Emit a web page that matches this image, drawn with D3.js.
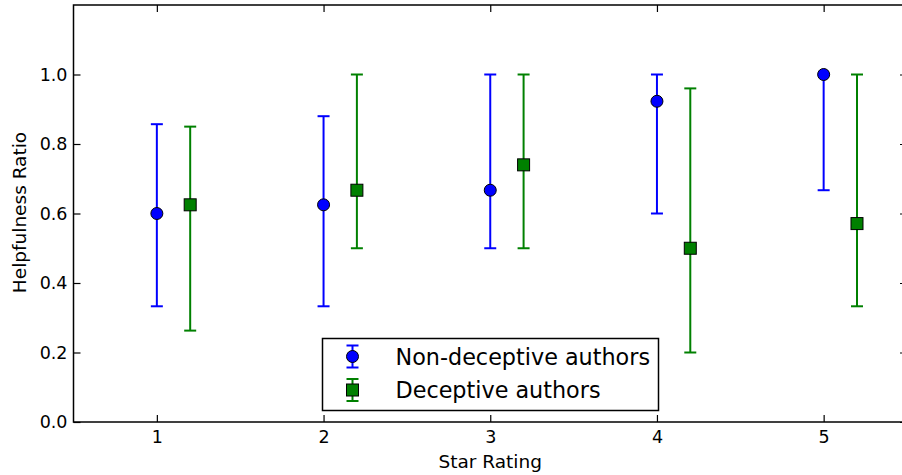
<!DOCTYPE html>
<html>
<head>
<meta charset="utf-8">
<script src="https://cdn.jsdelivr.net/npm/d3@7"></script>
<style>
  body { margin: 0; background: #fff; }
  svg { display: block; font-family: "DejaVu Sans", sans-serif; }
</style>
</head>
<body>
<div id="chart"></div>
<script>
// star ratings and helpfulness ratios
const stars = [1, 2, 3, 4, 5];
const honestMean = [0.600, 0.625, 0.667, 0.923, 1.000];
const honestLow  = [0.333, 0.333, 0.500, 0.600, 0.667];
const honestHigh = [0.857, 0.880, 1.000, 1.000, 1.000];
const deceptMean = [0.625, 0.667, 0.740, 0.500, 0.571];
const deceptLow  = [0.263, 0.500, 0.500, 0.200, 0.333];
const deceptHigh = [0.850, 1.000, 1.000, 0.960, 1.000];
const xTicks = [1, 2, 3, 4, 5];
const yTicks = [0, 0.2, 0.4, 0.6, 0.8, 1.0];
const seriesNames = ['Non-deceptive authors', 'Deceptive authors'];

const W = 902, H = 475;
const m = { left: 73.5, top: 5, right: -5, bottom: 53 };

const svg = d3.select('#chart').append('svg').attr('width', W).attr('height', H);

const x = d3.scaleLinear().domain([0.5, 5.5]).range([m.left, W - m.right]);
const y = d3.scaleLinear().domain([0, 1.2]).range([H - m.bottom, m.top]);

const series = [
  { name: seriesNames[0], color: '#0000ff', shape: 'circle', off: 0,
    pts: stars.map((s, i) => ({ x: s, v: honestMean[i], lo: honestLow[i], hi: honestHigh[i] })) },
  { name: seriesNames[1], color: '#008000', shape: 'square', off: 0.2,
    pts: stars.map((s, i) => ({ x: s, v: deceptMean[i], lo: deceptLow[i], hi: deceptHigh[i] })) }
];

const capW = 6;
const g = svg.append('g');

function drawMarker(sel, shape, color) {
  if (shape === 'circle') {
    sel.append('circle').attr('r', 6).attr('fill', color)
      .attr('stroke', '#000').attr('stroke-width', 1);
  } else {
    sel.append('rect').attr('x', -6).attr('y', -6).attr('width', 12).attr('height', 12)
      .attr('fill', color).attr('stroke', '#000').attr('stroke-width', 1);
  }
}

series.forEach(s => {
  const sg = g.append('g');
  const eb = sg.selectAll('g.eb').data(s.pts).join('g').attr('class', 'eb');
  eb.append('line')
    .attr('x1', d => x(d.x + s.off)).attr('x2', d => x(d.x + s.off))
    .attr('y1', d => y(d.lo)).attr('y2', d => y(d.hi))
    .attr('stroke', s.color).attr('stroke-width', 2);
  ['lo', 'hi'].forEach(k => {
    eb.append('line')
      .attr('x1', d => x(d.x + s.off) - capW).attr('x2', d => x(d.x + s.off) + capW)
      .attr('y1', d => y(d[k])).attr('y2', d => y(d[k]))
      .attr('stroke', s.color).attr('stroke-width', 2);
  });
  const mk = sg.selectAll('g.mk').data(s.pts).join('g').attr('class', 'mk')
    .attr('transform', d => `translate(${x(d.x + s.off)},${y(d.v)})`);
  drawMarker(mk, s.shape, s.color);
});

// axes with inward ticks on all sides
const tickLen = 7;
const axB = svg.append('g').attr('transform', `translate(0,${H - m.bottom})`)
  .call(d3.axisBottom(x).tickValues(xTicks).tickFormat(d3.format('d')).tickSizeInner(-tickLen).tickSizeOuter(0).tickPadding(9));
const axT = svg.append('g').attr('transform', `translate(0,${m.top})`)
  .call(d3.axisTop(x).tickValues(xTicks).tickFormat('').tickSizeInner(-tickLen).tickSizeOuter(0));
const axL = svg.append('g').attr('transform', `translate(${m.left},0)`)
  .call(d3.axisLeft(y).tickValues(yTicks).tickFormat(d3.format('.1f')).tickSizeInner(-tickLen).tickSizeOuter(0).tickPadding(6));
const axR = svg.append('g').attr('transform', `translate(${W - m.right},0)`)
  .call(d3.axisRight(y).tickValues(yTicks).tickFormat('').tickSizeInner(-tickLen).tickSizeOuter(0));

[axB, axT, axL, axR].forEach(a => {
  a.select('.domain').remove();
  a.selectAll('line').attr('stroke', '#000').attr('stroke-width', 1.2);
  a.selectAll('text').attr('font-family', '"DejaVu Sans", sans-serif')
    .attr('font-size', 17.5).attr('fill', '#000');
});

// frame
svg.append('rect')
  .attr('x', m.left).attr('y', m.top)
  .attr('width', x.range()[1] - m.left).attr('height', y.range()[0] - m.top)
  .attr('fill', 'none').attr('stroke', '#000').attr('stroke-width', 1.5);

svg.append('text').attr('x', (m.left + W - m.right) / 2).attr('y', 468)
  .attr('text-anchor', 'middle').attr('font-size', 18.5).text('Star Rating');
svg.append('text').attr('transform', `translate(26,${(m.top + H - m.bottom) / 2 - 1}) rotate(-90)`)
  .attr('text-anchor', 'middle').attr('font-size', 18.5).text('Helpfulness Ratio');

// legend
const lg = svg.append('g').attr('transform', 'translate(322.5,338.5)');
lg.append('rect').attr('width', 336).attr('height', 72)
  .attr('fill', '#fff').attr('stroke', '#000').attr('stroke-width', 1.5);
const rows = lg.selectAll('g.row').data(series).join('g').attr('class', 'row')
  .attr('transform', (d, i) => `translate(30,${18 + i * 33.5})`);
rows.append('line').attr('y1', -11).attr('y2', 11).attr('stroke', d => d.color).attr('stroke-width', 2);
rows.append('line').attr('x1', -capW).attr('x2', capW).attr('y1', -11).attr('y2', -11).attr('stroke', d => d.color).attr('stroke-width', 2);
rows.append('line').attr('x1', -capW).attr('x2', capW).attr('y1', 11).attr('y2', 11).attr('stroke', d => d.color).attr('stroke-width', 2);
rows.each(function(d) { drawMarker(d3.select(this), d.shape, d.color); });
rows.append('text').attr('x', 43).attr('dy', '0.36em').attr('font-size', 22.3).text(d => d.name);
</script>
</body>
</html>
